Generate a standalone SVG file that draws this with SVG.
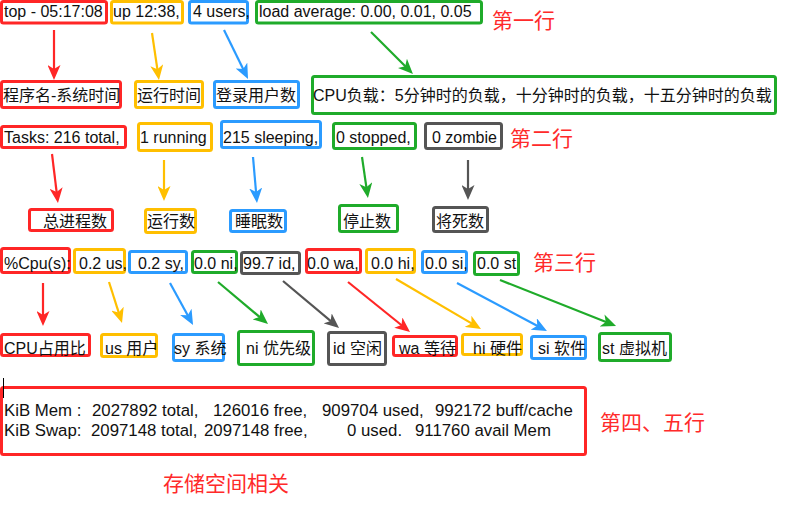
<svg xmlns="http://www.w3.org/2000/svg" width="800" height="514" viewBox="0 0 800 514">
<style>
text{font-family:"Liberation Sans","Noto Sans CJK SC",sans-serif;font-size:16px;fill:#111}
.h{font-size:21px;fill:#ff2a2a}
rect{fill:none;stroke-width:3}
.r{stroke:#ff2626}.y{stroke:#ffbf00}.b{stroke:#2b9bff}.g{stroke:#1fab2a}.k{stroke:#555}
.c line{stroke-width:2.2}
.m{font-size:16.8px}
</style>
<defs>
<marker id="aR" viewBox="0 0 15 13" refX="7" refY="6.5" markerWidth="15" markerHeight="13" markerUnits="userSpaceOnUse" orient="auto"><path d="M0,0L15,6.5L0,13L4,6.5Z" fill="#ff2626"/></marker>
<marker id="aY" viewBox="0 0 15 13" refX="7" refY="6.5" markerWidth="15" markerHeight="13" markerUnits="userSpaceOnUse" orient="auto"><path d="M0,0L15,6.5L0,13L4,6.5Z" fill="#ffbf00"/></marker>
<marker id="aB" viewBox="0 0 15 13" refX="7" refY="6.5" markerWidth="15" markerHeight="13" markerUnits="userSpaceOnUse" orient="auto"><path d="M0,0L15,6.5L0,13L4,6.5Z" fill="#2b9bff"/></marker>
<marker id="aG" viewBox="0 0 15 13" refX="7" refY="6.5" markerWidth="15" markerHeight="13" markerUnits="userSpaceOnUse" orient="auto"><path d="M0,0L15,6.5L0,13L4,6.5Z" fill="#1fab2a"/></marker>
<marker id="aK" viewBox="0 0 15 13" refX="7" refY="6.5" markerWidth="15" markerHeight="13" markerUnits="userSpaceOnUse" orient="auto"><path d="M0,0L15,6.5L0,13L4,6.5Z" fill="#555"/></marker>
</defs>

<!-- Row 1 -->
<g id="n-top"><rect class="r" x="1.5" y="1.5" width="105" height="21.5" rx="2"/><text x="4" y="17">top - 05:17:08</text></g>
<g id="n-up"><rect class="y" x="111.5" y="1.5" width="71" height="21.5" rx="2"/><text x="113" y="17">up 12:38,</text></g>
<g id="n-users"><rect class="b" x="189.5" y="1.5" width="58" height="21.5" rx="2"/><text x="193" y="17">4 users,</text></g>
<g id="n-load"><rect class="g" x="256.5" y="1.5" width="225" height="21.5" rx="2"/><text x="259" y="17">load average: 0.00, 0.01, 0.05</text></g>
<g id="h1"><text class="h" x="492" y="28">第一行</text></g>

<g id="l-time"><rect class="r" x="1.5" y="81.5" width="119" height="26" rx="2"/><text x="3" y="101">程序名-系统时间</text></g>
<g id="l-run"><rect class="y" x="135.5" y="81.5" width="67" height="26" rx="2"/><text x="137" y="101">运行时间</text></g>
<g id="l-users"><rect class="b" x="214.5" y="81.5" width="84" height="26" rx="2"/><text x="216" y="101">登录用户数</text></g>
<g id="l-load"><rect class="g" x="312.5" y="76.5" width="463" height="37" rx="2"/><text x="313" y="101">CPU负载：5分钟时的负载，十分钟时的负载，十五分钟时的负载</text></g>

<!-- Row 2 -->
<g id="n-tasks"><rect class="r" x="1.5" y="126.5" width="124" height="21" rx="2"/><text x="4" y="143">Tasks: 216 total,</text></g>
<g id="n-running"><rect class="y" x="138.5" y="123.5" width="73" height="27" rx="2"/><text x="140" y="143">1 running</text></g>
<g id="n-sleeping"><rect class="b" x="221.5" y="121.5" width="99" height="26" rx="2"/><text x="223" y="143">215 sleeping,</text></g>
<g id="n-stopped"><rect class="g" x="333.5" y="123.5" width="82" height="25" rx="2"/><text x="336" y="143">0 stopped,</text></g>
<g id="n-zombie"><rect class="k" x="425.5" y="123.5" width="76" height="25" rx="2"/><text x="432" y="143">0 zombie</text></g>
<g id="h2"><text class="h" x="510" y="146">第二行</text></g>

<g id="l-total"><rect class="r" x="29.5" y="209.5" width="83" height="21" rx="2"/><text x="43" y="227">总进程数</text></g>
<g id="l-running"><rect class="y" x="145.5" y="209.5" width="50" height="23" rx="2"/><text x="147" y="227">运行数</text></g>
<g id="l-sleeping"><rect class="b" x="230.5" y="210.5" width="55" height="21" rx="2"/><text x="235" y="227">睡眠数</text></g>
<g id="l-stopped"><rect class="g" x="339.5" y="205.5" width="58" height="26" rx="2"/><text x="343" y="227">停止数</text></g>
<g id="l-zombie"><rect class="k" x="433.5" y="207.5" width="54" height="24" rx="2"/><text x="436" y="227">将死数</text></g>

<!-- Row 3 -->
<g id="n-cpu"><rect class="r" x="1.5" y="248.5" width="68" height="24" rx="2"/><text x="4" y="269">%Cpu(s):</text></g>
<g id="n-us"><rect class="y" x="74.5" y="249.5" width="50" height="23" rx="2"/><text x="79" y="269">0.2 us,</text></g>
<g id="n-sy"><rect class="b" x="129.5" y="251.5" width="57" height="21" rx="2"/><text x="138" y="269">0.2 sy,</text></g>
<g id="n-ni"><rect class="g" x="192.5" y="251.5" width="44" height="21" rx="2"/><text x="194" y="269">0.0 ni,</text></g>
<g id="n-id"><rect class="k" x="241.5" y="252.5" width="58" height="21" rx="2"/><text x="243" y="269">99.7 id,</text></g>
<g id="n-wa"><rect class="r" x="306.5" y="249.5" width="54" height="23" rx="2"/><text x="307" y="269">0.0 wa,</text></g>
<g id="n-hi"><rect class="y" x="366.5" y="249.5" width="48" height="23" rx="2"/><text x="371" y="269">0.0 hi,</text></g>
<g id="n-si"><rect class="b" x="422.5" y="251.5" width="44" height="21" rx="2"/><text x="425" y="269">0.0 si,</text></g>
<g id="n-st"><rect class="g" x="474.5" y="252.5" width="44" height="22" rx="2"/><text x="477" y="269">0.0 st</text></g>
<g id="h3"><text class="h" x="533" y="270">第三行</text></g>

<g id="l-cpu"><rect class="r" x="1.5" y="334.5" width="88" height="21" rx="2"/><text x="4" y="354">CPU占用比</text></g>
<g id="l-us"><rect class="y" x="101.5" y="334.5" width="55" height="22" rx="2"/><text x="105" y="354">us 用户</text></g>
<g id="l-sy"><rect class="b" x="173.5" y="334.5" width="50" height="26" rx="2"/><text x="174" y="354">sy 系统</text></g>
<g id="l-ni"><rect class="g" x="238.5" y="331.5" width="75" height="33" rx="2"/><text x="246" y="354">ni 优先级</text></g>
<g id="l-id"><rect class="k" x="328.5" y="332.5" width="57" height="32" rx="2"/><text x="333" y="354">id 空闲</text></g>
<g id="l-wa"><rect class="r" x="393.5" y="336.5" width="63" height="19" rx="2"/><text x="399" y="354">wa 等待</text></g>
<g id="l-hi"><rect class="y" x="462.5" y="334.5" width="59" height="20" rx="2"/><text x="473" y="354">hi 硬件</text></g>
<g id="l-si"><rect class="b" x="531.5" y="336.5" width="54" height="22" rx="2"/><text x="538" y="354">si 软件</text></g>
<g id="l-st"><rect class="g" x="599.5" y="333.5" width="71" height="27" rx="2"/><text x="602" y="354">st 虚拟机</text></g>

<!-- Memory -->
<g id="n-mem">
<rect class="r" x="1.5" y="387.5" width="584" height="67" rx="2"/>
<line x1="3.5" y1="378" x2="3.5" y2="398" stroke="#000" stroke-width="1"/>
<text class="m" y="416"><tspan x="4">KiB Mem :</tspan><tspan x="92">2027892 total,</tspan><tspan x="213">126016 free,</tspan><tspan x="322">909704 used,</tspan><tspan x="435">992172 buff/cache</tspan></text>
<text class="m" y="436"><tspan x="4">KiB Swap:</tspan><tspan x="91">2097148 total,</tspan><tspan x="204">2097148 free,</tspan><tspan x="347">0 used.</tspan><tspan x="415">911760 avail Mem</tspan></text>
</g>
<g id="h4"><text class="h" x="600" y="430">第四、五行</text></g>
<g id="h5"><text class="h" x="163" y="491">存储空间相关</text></g>

<!-- Connectors -->
<g id="connectors" class="c">
<line x1="54" y1="30" x2="54" y2="72" stroke="#ff2626" marker-end="url(#aR)"/>
<line x1="152" y1="33" x2="157.8" y2="72.1" stroke="#ffbf00" marker-end="url(#aY)"/>
<line x1="224" y1="30" x2="244.5" y2="71.8" stroke="#2b9bff" marker-end="url(#aB)"/>
<line x1="371" y1="32" x2="407.3" y2="68.3" stroke="#1fab2a" marker-end="url(#aG)"/>

<line x1="52" y1="154" x2="57" y2="195.1" stroke="#ff2626" marker-end="url(#aR)"/>
<line x1="164" y1="160" x2="164" y2="193" stroke="#ffbf00" marker-end="url(#aY)"/>
<line x1="253" y1="157" x2="256.3" y2="195" stroke="#2b9bff" marker-end="url(#aB)"/>
<line x1="362" y1="157" x2="366.8" y2="190.1" stroke="#1fab2a" marker-end="url(#aG)"/>
<line x1="468" y1="160" x2="468" y2="192" stroke="#555" marker-end="url(#aK)"/>

<line x1="43" y1="283" x2="43" y2="318" stroke="#ff2626" marker-end="url(#aR)"/>
<line x1="109" y1="282" x2="119.6" y2="315.4" stroke="#ffbf00" marker-end="url(#aY)"/>
<line x1="170" y1="283" x2="189.2" y2="318" stroke="#2b9bff" marker-end="url(#aB)"/>
<line x1="218" y1="282" x2="261.9" y2="318.9" stroke="#1fab2a" marker-end="url(#aG)"/>
<line x1="283" y1="281" x2="332.9" y2="322.9" stroke="#555" marker-end="url(#aK)"/>
<line x1="348" y1="282" x2="403.8" y2="327" stroke="#ff2626" marker-end="url(#aR)"/>
<line x1="396" y1="279" x2="474.1" y2="324.9" stroke="#ffbf00" marker-end="url(#aY)"/>
<line x1="457" y1="283" x2="539.9" y2="327.2" stroke="#2b9bff" marker-end="url(#aB)"/>
<line x1="500" y1="280" x2="608.6" y2="323" stroke="#1fab2a" marker-end="url(#aG)"/>
</g>
</svg>
